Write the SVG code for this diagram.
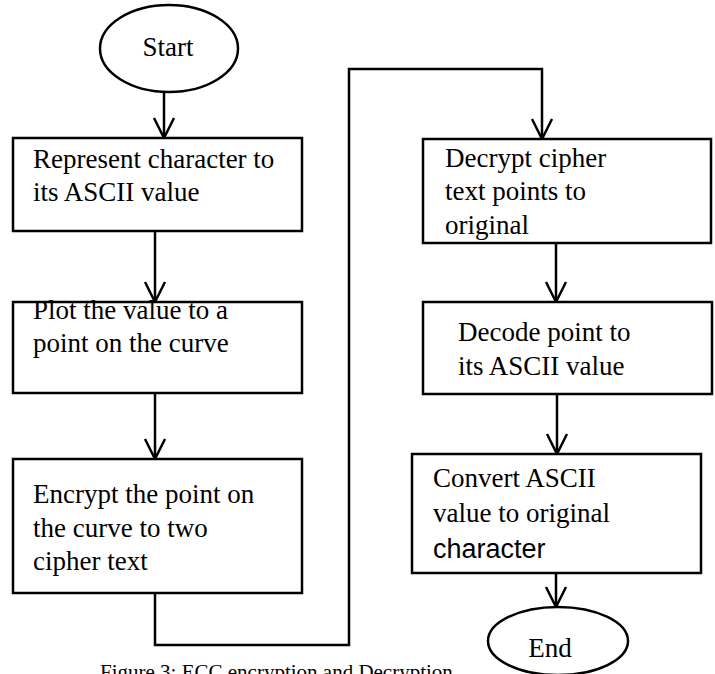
<svg xmlns="http://www.w3.org/2000/svg" width="715" height="674" viewBox="0 0 715 674">
  <style>
    .shape { fill: #ffffff; stroke: #000000; stroke-width: 2.5; }
    .wire { fill: none; stroke: #000000; stroke-width: 2.5; marker-end: url(#vhead); }
    .lbl { font-family: "Liberation Serif", "Times New Roman", serif; font-size: 27px; fill: #000000; }
    .lbl-sans { font-family: "Liberation Sans", Arial, sans-serif; font-size: 27px; fill: #000000; }
    .cap { font-family: "Liberation Serif", "Times New Roman", serif; font-size: 21px; fill: #000000; }
  </style>
  <defs>
    <marker id="vhead" markerUnits="userSpaceOnUse" markerWidth="30" markerHeight="30" refX="0" refY="0" orient="auto" overflow="visible">
      <path d="M-20,-10 L0,0 L-20,10" fill="none" stroke="#000000" stroke-width="2.5"/>
    </marker>
  </defs>

  <rect width="715" height="674" fill="#ffffff"/>

  <!-- figure caption, running off the bottom edge -->
  <text class="cap" x="100" y="679">Figure 3: ECC encryption and Decryption</text>

  <!-- connectors -->
  <g id="connectors">
    <line class="wire" x1="164" y1="92" x2="164" y2="138"/>
    <line class="wire" x1="155" y1="231" x2="155" y2="302"/>
    <line class="wire" x1="155" y1="393" x2="155" y2="459"/>
    <polyline class="wire" points="155,593 155,645 349,645 349,69 542,69 542,139"/>
    <line class="wire" x1="556" y1="243" x2="556" y2="302"/>
    <line class="wire" x1="557" y1="394" x2="557" y2="454"/>
    <line class="wire" x1="556" y1="573" x2="556" y2="607"/>
  </g>

  <g id="start">
    <ellipse class="shape" cx="169" cy="48.5" rx="69" ry="43.5"/>
    <text class="lbl" x="168" y="56" text-anchor="middle">Start</text>
  </g>

  <g id="represent">
    <rect class="shape" x="13" y="138" width="289" height="93"/>
    <text class="lbl" x="33" y="168">Represent character to</text>
    <text class="lbl" x="33" y="201">its ASCII value</text>
  </g>

  <g id="plot">
    <rect class="shape" x="13" y="302" width="289" height="91"/>
    <text class="lbl" x="33" y="319">Plot the value to a</text>
    <text class="lbl" x="33" y="352">point on the curve</text>
  </g>

  <g id="encrypt">
    <rect class="shape" x="13" y="459" width="289" height="134"/>
    <text class="lbl" x="33" y="503">Encrypt the point on</text>
    <text class="lbl" x="33" y="537">the curve to two</text>
    <text class="lbl" x="33" y="570">cipher text</text>
  </g>

  <g id="decrypt">
    <rect class="shape" x="423" y="139" width="288" height="104"/>
    <text class="lbl" x="445" y="167">Decrypt cipher</text>
    <text class="lbl" x="445" y="200">text points to</text>
    <text class="lbl" x="445" y="234">original</text>
  </g>

  <g id="decode">
    <rect class="shape" x="423" y="302" width="289" height="92"/>
    <text class="lbl" x="458" y="341">Decode point to</text>
    <text class="lbl" x="458" y="375">its ASCII value</text>
  </g>

  <g id="convert">
    <rect class="shape" x="412" y="454" width="289" height="119"/>
    <text class="lbl" x="433" y="487">Convert ASCII</text>
    <text class="lbl" x="433" y="522">value to original</text>
    <text class="lbl-sans" x="433" y="558">character</text>
  </g>

  <g id="end">
    <ellipse class="shape" cx="558" cy="641" rx="70" ry="34"/>
    <text class="lbl" x="550" y="657" text-anchor="middle">End</text>
  </g>
</svg>
